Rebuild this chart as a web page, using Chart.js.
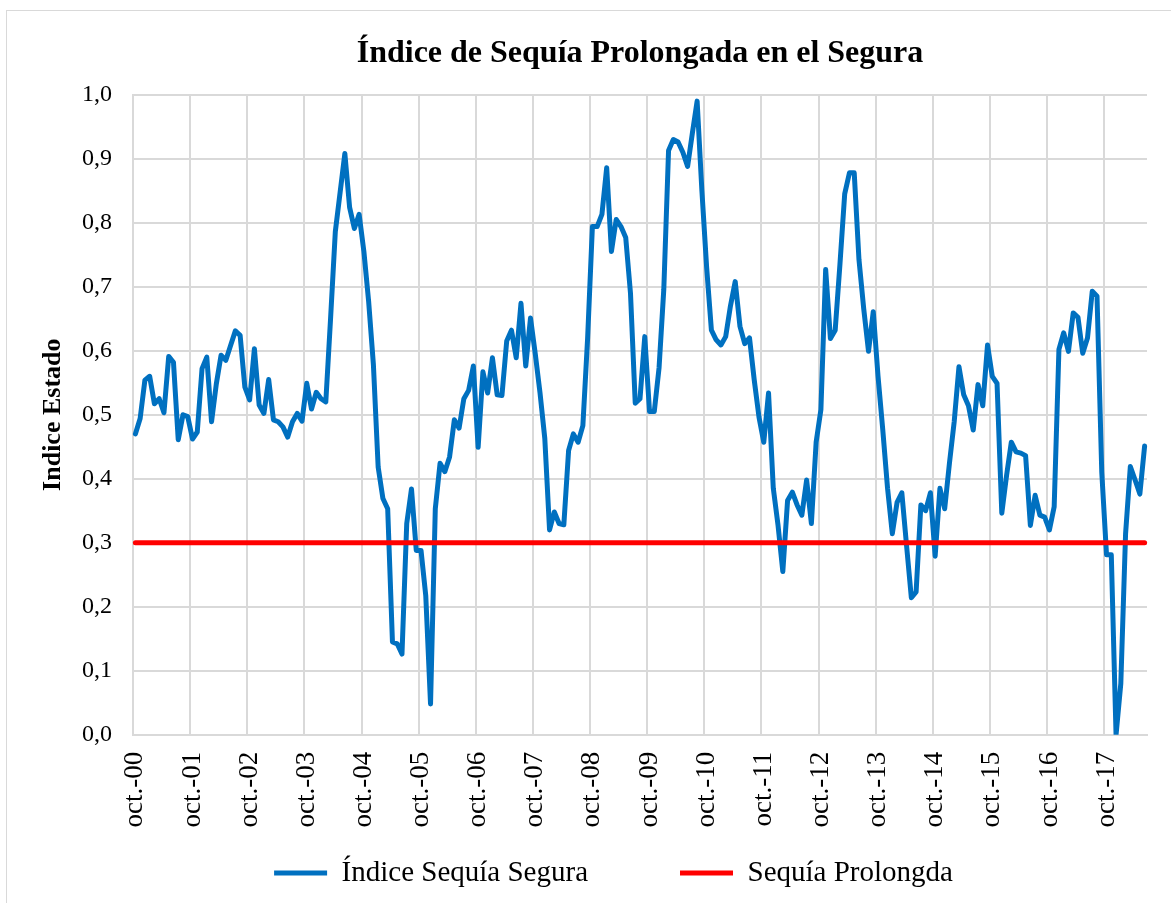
<!DOCTYPE html>
<html lang="es">
<head>
<meta charset="utf-8">
<title>Índice de Sequía Prolongada en el Segura</title>
<script src="https://cdn.jsdelivr.net/npm/chart.js@4.4.1/dist/chart.umd.min.js"></script>
<style>
  html, body { margin: 0; padding: 0; background: #ffffff; overflow: hidden; }
  #marco { position: absolute; left: 6px; top: 10px; width: 1200px; height: 1000px; border: 1px solid #d9d9d9; box-sizing: border-box; }
  #contenedor { position: absolute; left: 0; top: 0; width: 1171px; height: 903px; }
</style>
</head>
<body>
<div id="marco"></div>
<div id="contenedor"><canvas id="grafico"></canvas></div>
<script>
// ---- Textos ----
const tituloGrafico = 'Índice de Sequía Prolongada en el Segura';
const tituloEjeY = 'Indice Estado';
const nombreSerieIndice = 'Índice Sequía Segura';
const nombreSerieUmbral = 'Sequía Prolongda';

// ---- Categorías (meses desde oct.-00 hasta jun.-18) ----
const nombresMeses = ['ene.', 'feb.', 'mar.', 'abr.', 'may.', 'jun.', 'jul.', 'ago.', 'sept.', 'oct.', 'nov.', 'dic.'];
const anios = ['00','01','02','03','04','05','06','07','08','09','10','11','12','13','14','15','16','17','18'];
const categorias = [];
for (let a = 0; a < anios.length; a++) {
  for (let m = 0; m < 12; m++) {
    const enRango = (a === 0 && m >= 9) || (a > 0 && a < 18) || (a === 18 && m <= 5);
    if (enRango) categorias.push(nombresMeses[m] + '-' + anios[a]);
  }
}

// ---- Serie: Índice Sequía Segura (valores mensuales) ----
const indiceSequia = [
  0.470, 0.494, 0.554, 0.560, 0.517, 0.525, 0.503, 0.591, 0.582, 0.461, 0.500, 0.497,
  0.462, 0.473, 0.572, 0.590, 0.489, 0.548, 0.593, 0.585, 0.608, 0.631, 0.624, 0.543,
  0.523, 0.603, 0.515, 0.502, 0.555, 0.492, 0.489, 0.481, 0.465, 0.489, 0.502, 0.490,
  0.549, 0.509, 0.535, 0.525, 0.520, 0.650, 0.786, 0.847, 0.908, 0.824, 0.791, 0.813,
  0.755, 0.677, 0.578, 0.418, 0.369, 0.353, 0.145, 0.142, 0.126, 0.330, 0.384, 0.288,
  0.288, 0.217, 0.048, 0.353, 0.424, 0.411, 0.434, 0.492, 0.479, 0.525, 0.538, 0.576,
  0.449, 0.567, 0.534, 0.589, 0.531, 0.530, 0.615, 0.632, 0.589, 0.674, 0.576, 0.651,
  0.595, 0.534, 0.463, 0.320, 0.348, 0.330, 0.328, 0.444, 0.470, 0.457, 0.483, 0.620,
  0.794, 0.794, 0.813, 0.886, 0.755, 0.805, 0.794, 0.777, 0.690, 0.518, 0.525, 0.622,
  0.505, 0.505, 0.573, 0.696, 0.913, 0.930, 0.926, 0.910, 0.888, 0.940, 0.990, 0.850,
  0.730, 0.632, 0.617, 0.609, 0.622, 0.670, 0.708, 0.638, 0.611, 0.620, 0.554, 0.496,
  0.457, 0.534, 0.385, 0.327, 0.255, 0.366, 0.379, 0.359, 0.343, 0.398, 0.330, 0.457,
  0.508, 0.727, 0.619, 0.632, 0.735, 0.845, 0.878, 0.878, 0.742, 0.665, 0.599, 0.661,
  0.560, 0.476, 0.385, 0.314, 0.363, 0.378, 0.295, 0.214, 0.223, 0.359, 0.350, 0.378,
  0.279, 0.385, 0.353, 0.424, 0.489, 0.575, 0.531, 0.514, 0.476, 0.547, 0.514, 0.609,
  0.560, 0.549, 0.346, 0.405, 0.457, 0.442, 0.440, 0.436, 0.327, 0.374, 0.343, 0.340,
  0.320, 0.356, 0.602, 0.628, 0.599, 0.659, 0.652, 0.596, 0.620, 0.693, 0.685, 0.410,
  0.281, 0.281, 0.000, 0.080, 0.314, 0.419, 0.398, 0.376, 0.451
];

// ---- Serie: umbral de Sequía Prolongada ----
const umbralSequia = 0.3;
const serieUmbral = [
  { x: categorias[0], y: umbralSequia },
  { x: categorias[categorias.length - 1], y: umbralSequia }
];

// ---- Eje Y ----
const ejeYMin = 0;
const ejeYMax = 1;
const ejeYPaso = 0.1;
const cadaNMeses = 12;

Chart.defaults.font.family = "'Liberation Serif', 'Times New Roman', serif";
Chart.defaults.color = '#000000';

const grid = '#d9d9d9';
const tamEtiquetaX = 27;

new Chart(document.getElementById('grafico'), {
  type: 'line',
  data: {
    labels: categorias,
    datasets: [
      {
        label: nombreSerieIndice,
        data: indiceSequia,
        borderColor: '#0070C0',
        backgroundColor: '#0070C0',
        borderWidth: 5,
        pointRadius: 0,
        pointHoverRadius: 0,
        pointStyle: 'line',
        tension: 0,
        fill: false,
        borderCapStyle: 'round',
        borderJoinStyle: 'round',
        order: 1
      },
      {
        label: nombreSerieUmbral,
        data: serieUmbral,
        borderColor: '#FF0000',
        backgroundColor: '#FF0000',
        borderWidth: 5,
        pointRadius: 0,
        pointHoverRadius: 0,
        pointStyle: 'line',
        tension: 0,
        fill: false,
        borderCapStyle: 'round',
        order: 0
      }
    ]
  },
  options: {
    responsive: true,
    maintainAspectRatio: false,
    animation: false,
    devicePixelRatio: 1,
    events: [],
    layout: { padding: { left: 80, right: 24, top: 0, bottom: 5.5 } },
    plugins: {
      title: {
        display: true,
        text: tituloGrafico,
        fullSize: false,
        color: '#000000',
        font: { size: 32, weight: 'bold' },
        padding: { top: 34.8, bottom: 21.5 }
      },
      legend: {
        position: 'bottom',
        labels: {
          usePointStyle: true,
          pointStyle: 'line',
          pointStyleWidth: 53,
          padding: 92,
          color: '#000000',
          font: { size: 29 },
          sort: (a, b) => a.datasetIndex - b.datasetIndex
        }
      },
      tooltip: { enabled: false }
    },
    scales: {
      x: {
        type: 'category',
        offset: true,
        grid: {
          offset: true,
          drawTicks: false,
          lineWidth: 2,
          color: (c) => (c.index !== undefined && c.index % cadaNMeses === 0) ? grid : 'rgba(0,0,0,0)'
        },
        border: { display: true, color: grid, width: 2 },
        ticks: {
          autoSkip: false,
          maxRotation: 90,
          minRotation: 90,
          mirror: true,
          padding: -17,
          labelOffset: tamEtiquetaX * 1.2,
          color: '#000000',
          font: { size: tamEtiquetaX },
          callback: function (v, i) { return i % cadaNMeses === 0 ? this.getLabelForValue(v) : ''; }
        },
        afterFit: (s) => { s.height = 31.8; s.paddingLeft = 0; s.paddingRight = 0; }
      },
      y: {
        min: ejeYMin,
        max: ejeYMax,
        ticks: {
          stepSize: ejeYPaso,
          padding: 21,
          color: '#000000',
          font: { size: 24 },
          callback: (v) => Number(v).toFixed(1).replace('.', ',')
        },
        grid: { color: grid, lineWidth: 2, drawTicks: false },
        border: { display: true, color: grid, width: 2 },
        title: {
          display: true,
          text: tituloEjeY,
          color: '#000000',
          font: { size: 26, weight: 'bold' },
          padding: { top: -42.6, bottom: 0 }
        },
        afterFit: (s) => { s.width = 53; }
      }
    }
  }
});
</script>
</body>
</html>
